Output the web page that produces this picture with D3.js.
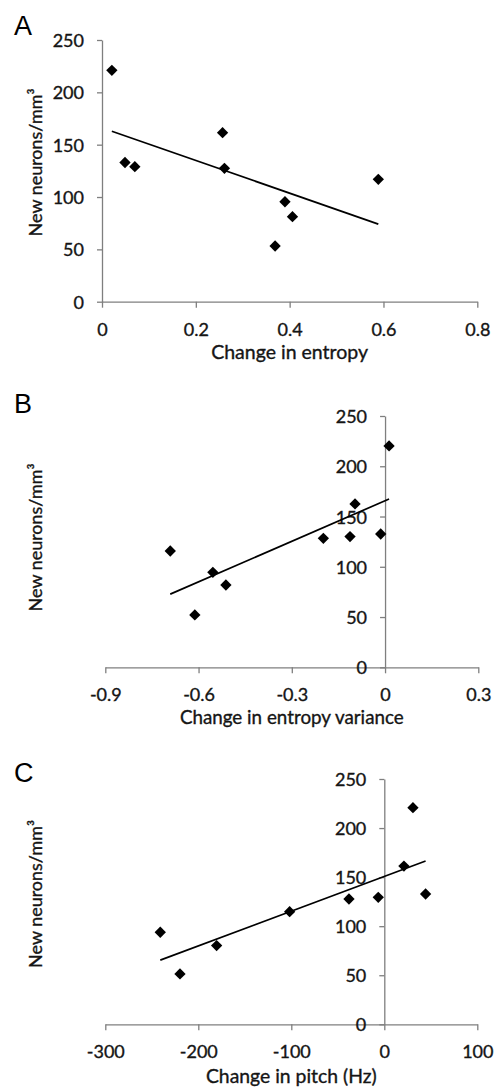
<!DOCTYPE html>
<html><head><meta charset="utf-8">
<script src="https://cdn.jsdelivr.net/npm/d3@7"></script>
<style>body{margin:0;background:#fff}svg{display:block}</style>
</head><body>
<svg id="c" width="498" height="1088"></svg>
<script>
// ---- data ----
const entropyChange = [0.021, 0.049, 0.070, 0.257, 0.261, 0.369, 0.390, 0.406, 0.589];
const neuronsA = [221, 133, 129, 161.5, 127.4, 53.2, 95.5, 81.2, 116.9];
const entropyVarChange = [-0.691, -0.612, -0.554, -0.512, -0.1985, -0.1127, -0.0966, -0.014, 0.0129];
const neuronsB = [115.7, 52.1, 94.5, 81.9, 128.3, 130, 162.5, 132.6, 220.2];
const pitchChange = [-240.9, -219.7, -180.3, -101.8, -38, -6.5, 21.1, 30.8, 44.4];
const neuronsC = [93.8, 51.3, 80.2, 114.8, 127.7, 129.4, 161.3, 220.8, 132.8];
const yTicks = [0, 50, 100, 150, 200, 250];
const xTicksA = [0, 0.2, 0.4, 0.6, 0.8];
const xTicksB = [-0.9, -0.6, -0.3, 0, 0.3];
const xTicksC = [-300, -200, -100, 0, 100];
const xLabelsA = ["0", "0.2", "0.4", "0.6", "0.8"];
const xLabelsB = ["-0.9", "-0.6", "-0.3", "0", "0.3"];
const xLabelsC = ["-300", "-200", "-100", "0", "100"];

const panels = [
  {letter: "A", xs: entropyChange, ys: neuronsA, xt: xTicksA, xl: xLabelsA, xdom: [0, 0.8],
   xr: [102, 477.3], yr: [301.7, 40], title: "Change in entropy", titleW: 157, titleY: 359, letterY: 35, ytY: 162.5},
  {letter: "B", xs: entropyVarChange, ys: neuronsB, xt: xTicksB, xl: xLabelsB, xdom: [-0.9, 0.3],
   xr: [105.3, 478.3], yr: [667.3, 416], title: "Change in entropy variance", titleW: 224, titleY: 724, letterY: 413, ytY: 537.5},
  {letter: "C", xs: pitchChange, ys: neuronsC, xt: xTicksC, xl: xLabelsC, xdom: [-300, 100],
   xr: [105.3, 477.3], yr: [1024.3, 779], title: "Change in pitch (Hz)", titleW: 171, titleY: 1083, letterY: 782, ytY: 894}
];

const svg = d3.select("#c");
const FONT = "Lato, 'Open Sans', sans-serif";
const AXC = "#7f7f7f";
const TXT = "#151515";

function fitText(sel, target, base) {
  sel.style("font-size", base + "px");
  const w = sel.node().getComputedTextLength();
  if (w > 0) sel.style("font-size", (base * target / w).toFixed(2) + "px");
}

panels.forEach(p => {
  const x = d3.scaleLinear().domain(p.xdom).range(p.xr);
  const y = d3.scaleLinear().domain([0, 250]).range(p.yr);
  const g = svg.append("g");
  const x0 = x(Math.max(p.xdom[0], 0));

  const xa = g.append("g").attr("transform", `translate(0,${y(0)})`)
    .call(d3.axisBottom(x).tickValues(p.xt).tickFormat((d, i) => p.xl[i]).tickSizeInner(6).tickSizeOuter(0));
  const ya = g.append("g").attr("transform", `translate(${x0},0)`)
    .call(d3.axisLeft(y).tickValues(yTicks).tickSizeInner(5).tickSizeOuter(0).tickPadding(13));
  [xa, ya].forEach(a => {
    a.select(".domain").attr("stroke", AXC).attr("stroke-width", 1.3);
    a.selectAll(".tick line").attr("stroke", AXC).attr("stroke-width", 1.3);
    a.selectAll("text").attr("fill", TXT).attr("stroke", TXT).attr("stroke-width", 0.35)
      .style("font-family", FONT).style("font-size", "18px");
  });
  xa.selectAll("text").attr("y", 34).attr("dy", 0);
  ya.selectAll("text").attr("dy", "0.36em");

  // trend line (least squares fit of the points)
  const n = p.xs.length;
  const mx = d3.mean(p.xs), my = d3.mean(p.ys);
  let sxy = 0, sxx = 0;
  for (let i = 0; i < n; i++) { sxy += (p.xs[i] - mx) * (p.ys[i] - my); sxx += (p.xs[i] - mx) ** 2; }
  const b = sxy / sxx, a0 = my - b * mx;
  const ext = d3.extent(p.xs);
  g.append("line")
    .attr("x1", x(ext[0])).attr("y1", y(a0 + b * ext[0]))
    .attr("x2", x(ext[1])).attr("y2", y(a0 + b * ext[1]))
    .attr("stroke", "#000").attr("stroke-width", 1.7);

  const sym = d3.symbol(d3.symbolSquare, 64);
  g.selectAll("path.pt").data(d3.range(n)).join("path").attr("class", "pt")
    .attr("d", sym)
    .attr("transform", i => `translate(${x(p.xs[i])},${y(p.ys[i])}) rotate(45)`)
    .attr("fill", "#000");

  const xt = g.append("text").attr("x", (p.xr[0] + p.xr[1]) / 2).attr("y", p.titleY)
    .attr("text-anchor", "middle").style("font-family", FONT)
    .attr("fill", TXT).attr("stroke", TXT).attr("stroke-width", 0.35).text(p.title);
  fitText(xt, p.titleW, 19);

  const yt = g.append("text").attr("transform", `translate(42,${p.ytY}) rotate(-90)`)
    .attr("text-anchor", "middle").style("font-family", FONT)
    .attr("fill", TXT).attr("stroke", TXT).attr("stroke-width", 0.35).text("New neurons/mm³");
  fitText(yt, 148, 19);

  g.append("text").attr("x", 14).attr("y", p.letterY)
    .style("font-family", "'Liberation Sans', Arial, sans-serif").style("font-size", "27px")
    .attr("fill", "#000").text(p.letter);
});
</script>
</body></html>
